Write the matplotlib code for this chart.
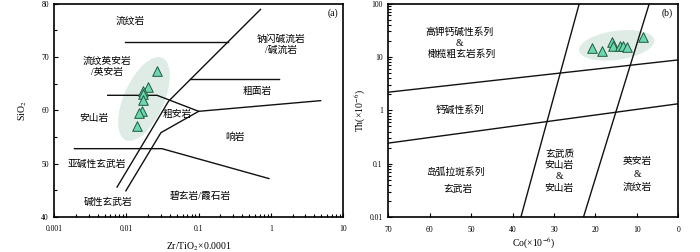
import matplotlib
matplotlib.use("Agg")
import matplotlib.pyplot as plt
import numpy as np
from matplotlib.patches import Ellipse
from matplotlib.transforms import ScaledTranslation
from matplotlib.ticker import FixedLocator, FixedFormatter, LogLocator, NullFormatter, MultipleLocator

plt.rcParams['font.family'] = ['Liberation Serif', 'Noto Sans CJK SC']
plt.rcParams['mathtext.fontset'] = 'stix'

# (a) Zr/TiO2*0.0001 vs SiO2 samples
zr_ti = [0.0264, 0.0196, 0.0172, 0.0169, 0.0172, 0.0164, 0.0147, 0.0139]
sio2 = [67.4, 64.3, 63.7, 63.0, 62.0, 59.9, 59.5, 57.1]

# (b) Co vs Th samples
co = [20.8, 18.4, 16.0, 15.7, 14.0, 13.3, 12.3, 8.5]
th = [14.8, 12.9, 18.7, 15.8, 16.1, 16.3, 15.5, 24.1]

# field boundaries, (x list, y list)
bounds_a = [
    ([0.0096, 0.253], [72.8, 72.8]),
    ([0.077, 1.3], [65.8, 65.8]),
    ([0.0055, 0.0265, 0.1, 4.9], [62.8, 62.8, 59.8, 61.8]),
    ([0.0019, 0.031, 0.94], [52.8, 52.8, 47.2]),
    ([0.0074, 0.0383, 0.72], [45.6, 61.7, 78.9]),
    ([0.0098, 0.030, 0.1], [44.9, 55.8, 59.8]),
]
bounds_b = [
    ([70, 0], [2.19, 8.8]),
    ([70, 0], [0.244, 1.33]),
    ([38.0, 23.9], [0.01, 100]),
    ([22.9, 7.0], [0.01, 100]),
]

# field names: (x, y, text)
labels_a = [
    (0.0113, 76.6, "流纹岩"),
    (0.0053, 68.2, "流纹英安岩\n/英安岩"),
    (1.4, 72.3, "钠闪碱流岩\n/碱流岩"),
    (0.647, 63.5, "粗面岩"),
    (0.05, 59.3, "粗安岩"),
    (0.0035, 58.5, "安山岩"),
    (0.32, 54.9, "响岩"),
    (0.0039, 49.8, "亚碱性玄武岩"),
    (0.0055, 42.8, "碱性玄武岩"),
    (0.106, 43.8, "碧玄岩/霞石岩"),
]
labels_b = [
    (52.8, 28.9, "高钾钙碱性系列"),
    (52.8, 17.8, "&"),
    (52.2, 11.1, "橄榄粗玄岩系列"),
    (52.7, 1.03, "钙碱性系列"),
    (53.7, 0.0713, "岛弧拉斑系列"),
    (53.1, 0.0338, "玄武岩"),
    (28.6, 0.149, "玄武质"),
    (28.7, 0.0948, "安山岩"),
    (28.7, 0.057, "&"),
    (28.7, 0.0347, "安山岩"),
    (9.9, 0.112, "英安岩"),
    (9.9, 0.0636, "&"),
    (9.9, 0.0372, "流纹岩"),
]

tri_face = '#6fd6ad'
tri_edge = '#1e5a42'
halo_col = '#dfece5'

fig = plt.figure(figsize=(7, 2.52), dpi=100)
ax1 = fig.add_axes([0.0776, 0.139, 0.4124, 0.847])
ax2 = fig.add_axes([0.5547, 0.138, 0.4143, 0.848])


def halo(ax, xs, ys, w, h, ang):
    # light ellipse behind the sample group, centred on the points
    pts = ax.transData.transform(np.column_stack([xs, ys]))
    c = ax.transData.inverted().transform(pts.mean(axis=0))
    tr = fig.dpi_scale_trans + ScaledTranslation(c[0], c[1], ax.transData)
    ax.add_patch(Ellipse((0, 0), w, h, angle=ang, transform=tr,
                         fc=halo_col, ec='none', zorder=1))


# ---- (a)
ax1.set_xscale('log')
ax1.set_xlim(0.001, 10)
ax1.set_ylim(40, 80)
for xs, ys in bounds_a:
    ax1.plot(xs, ys, color='#111111', lw=1.0, zorder=2)
for x, y, t in labels_a:
    ax1.text(x, y, t, fontsize=7, ha='center', va='center', linespacing=1.3, zorder=3)
halo(ax1, zr_ti, sio2, 0.90, 0.40, 66)
ax1.scatter(zr_ti, sio2, marker='^', s=48, fc=tri_face, ec=tri_edge, lw=0.7, zorder=4)
ax1.xaxis.set_major_locator(FixedLocator([0.001, 0.01, 0.1, 1, 10]))
ax1.xaxis.set_major_formatter(FixedFormatter(['0.001', '0.01', '0.1', '1', '10']))
ax1.xaxis.set_minor_locator(LogLocator(base=10, subs=np.arange(2, 10)))
ax1.xaxis.set_minor_formatter(NullFormatter())
ax1.yaxis.set_major_locator(MultipleLocator(10))
ax1.yaxis.set_minor_locator(MultipleLocator(5))
ax1.set_xlabel('Zr/TiO$_2$×0.0001', fontsize=7, labelpad=5)
ax1.set_ylabel('SiO$_2$', fontsize=7, labelpad=9)
ax1.text(0.965, 0.955, '(a)', transform=ax1.transAxes, fontsize=7, ha='center', va='center')

# ---- (b)
ax2.set_yscale('log')
ax2.set_xlim(70, 0)
ax2.set_ylim(0.01, 100)
for xs, ys in bounds_b:
    ax2.plot(xs, ys, color='#111111', lw=1.0, zorder=2)
for x, y, t in labels_b:
    ax2.text(x, y, t, fontsize=7, ha='center', va='center', zorder=3)
halo(ax2, co, th, 0.76, 0.29, 8)
ax2.scatter(co, th, marker='^', s=48, fc=tri_face, ec=tri_edge, lw=0.7, zorder=4)
ax2.xaxis.set_major_locator(MultipleLocator(10))
ax2.yaxis.set_major_locator(FixedLocator([0.01, 0.1, 1, 10, 100]))
ax2.yaxis.set_major_formatter(FixedFormatter(['0.01', '0.1', '1', '10', '100']))
ax2.yaxis.set_minor_locator(LogLocator(base=10, subs=np.arange(2, 10)))
ax2.yaxis.set_minor_formatter(NullFormatter())
ax2.set_xlabel('Co(×10$^{-6}$)', fontsize=7, labelpad=2)
ax2.set_ylabel('Th(×10$^{-6}$)', fontsize=7, labelpad=1)
ax2.text(0.96, 0.955, '(b)', transform=ax2.transAxes, fontsize=7, ha='center', va='center')

for ax in (ax1, ax2):
    for sp in ax.spines.values():
        sp.set_linewidth(1.2)
    ax.tick_params(which='both', direction='in', top=False, right=False,
                   labelsize=5.5, width=0.8)
    ax.tick_params(which='major', length=3, pad=4)
    ax.tick_params(which='minor', length=2.2)
ax1.tick_params(axis='x', which='major', pad=6)
ax2.tick_params(axis='x', which='major', pad=6)

fig.savefig('out.png', dpi=100)
